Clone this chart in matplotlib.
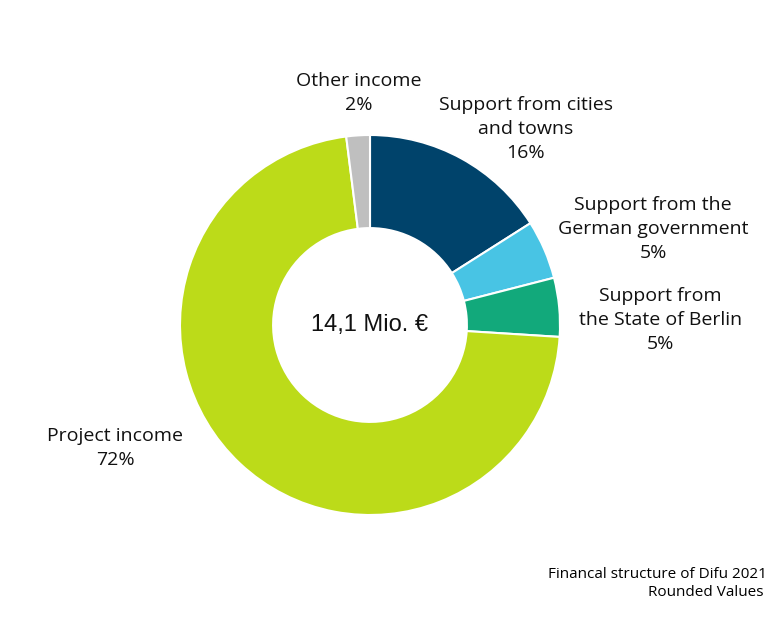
import matplotlib
matplotlib.use("Agg")
from matplotlib import pyplot as plt

labels = ["Support from cities\nand towns", "Support from the\nGerman government",
          "Support from\nthe State of Berlin", "Project income", "Other income"]
shares = [16, 5, 5, 72, 2]
colors = ["#00436B", "#48C4E4", "#12A97B", "#BCDB19", "#BFBFBF"]
total_text = "14,1 Mio. €"

# label positions in pie units (radius = 1)
label_pos = [(0.82, 1.03), (1.49, 0.505), (1.53, 0.026), (-1.34, -0.647), (-0.06, 1.22)]

W, H = 784, 619
fig = plt.figure(figsize=(W / 100, H / 100), dpi=100)
cx, cy, r = 370, 325, 190
ax = fig.add_axes([(cx - r) / W, (H - cy - r) / H, 2 * r / W, 2 * r / H])

ax.pie(shares, colors=colors, startangle=90, counterclock=False, radius=1,
       wedgeprops=dict(width=0.49, edgecolor="white", linewidth=1.5))
ax.set_xlim(-1, 1)
ax.set_ylim(-1, 1)
ax.set_aspect("auto")
ax.axis("off")

for lab, val, (x, y) in zip(labels, shares, label_pos):
    ax.text(x, y, lab + "\n" + str(val) + "%", ha="center", va="center",
            fontsize=14, family="Open Sans", linespacing=1.42, color="#111111")

ax.text(0, 0, total_text, ha="center", va="center", fontsize=17,
        family="Liberation Sans", color="#111111")

fig.text(767 / W, 1 - 575 / H, "Financal structure of Difu 2021", ha="right", va="center",
         fontsize=11, family="Open Sans", color="#000000")
fig.text(764 / W, 1 - 593 / H, "Rounded Values", ha="right", va="center",
         fontsize=11, family="Open Sans", color="#000000")

fig.savefig("out.png", dpi=100, facecolor="white")
